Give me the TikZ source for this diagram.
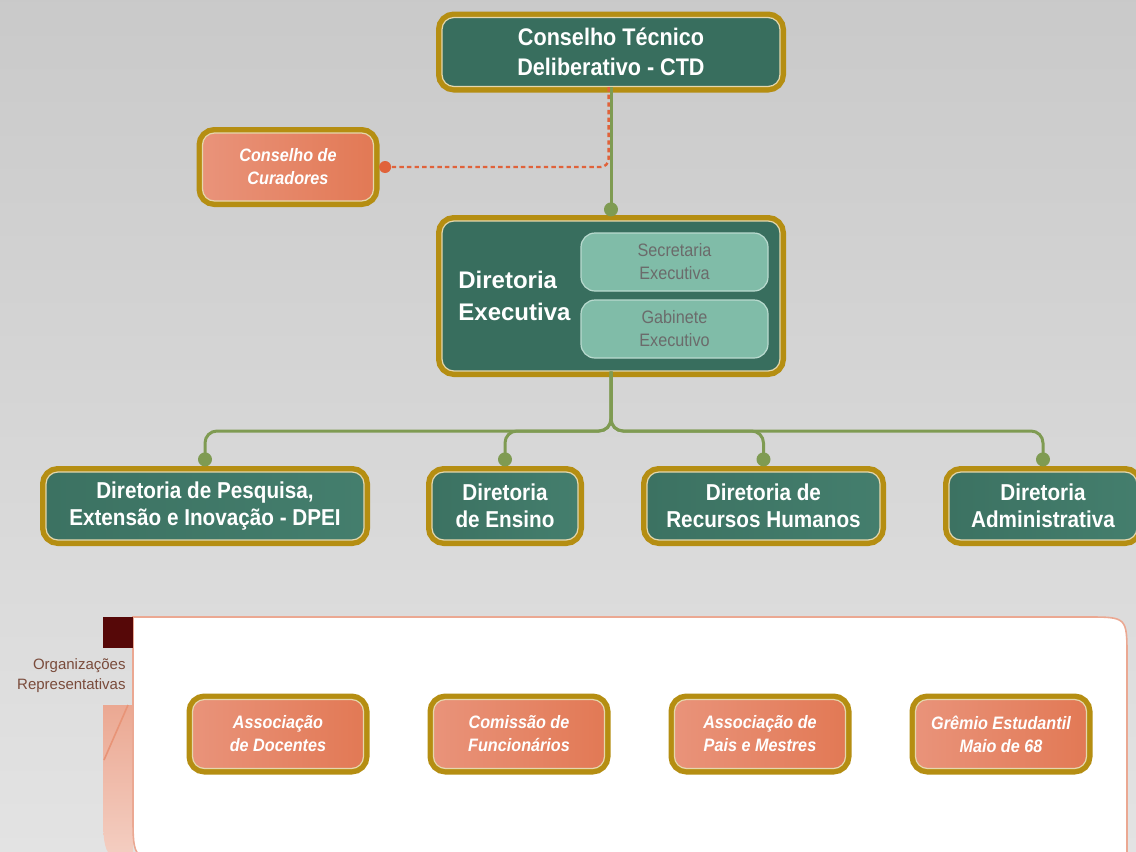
\documentclass[tikz,border=0pt]{standalone}
\usepackage{fontspec}
\setmainfont{Liberation Sans}
\newfontfamily\condfont[FakeStretch=0.9]{Liberation Sans}
\usetikzlibrary{positioning}
\definecolor{gold}{HTML}{B58E12}
\definecolor{boardgreen}{HTML}{386E5E}
\definecolor{rowdark}{HTML}{3C7262}
\definecolor{rowlight}{HTML}{4E8F7C}
\definecolor{rowmid}{HTML}{447E6D}
\definecolor{staffteal}{HTML}{80BCA8}
\definecolor{salmonlight}{HTML}{E9937A}
\definecolor{salmondark}{HTML}{E27955}
\definecolor{linkgreen}{HTML}{7F9B52}
\definecolor{advise}{HTML}{E0623A}
\definecolor{panelline}{HTML}{EBA892}
\definecolor{maroon}{HTML}{560808}
\definecolor{orgtext}{HTML}{7A4B3B}
\newcommand\rowy{506}
\newcommand\orgy{734}

\begin{document}
\begin{tikzpicture}[x=0.5pt, y=-0.5pt,
    box/.style={rounded corners=6pt, preaction={draw=gold, line width=6pt}, draw=white!65!gold, line width=0.6pt, align=center, text=white, inner sep=2pt},
    board/.style={box, fill=boardgreen, minimum width=169pt, minimum height=34.5pt, font=\condfont\bfseries\fontsize{12}{15}\selectfont},
    branch/.style={box, left color=rowdark, middle color=rowlight, right color=rowmid, minimum height=34pt, font=\condfont\bfseries\fontsize{11.5}{13.5}\selectfont},
    salmonbox/.style={box, left color=salmonlight, right color=salmondark, minimum width=85.5pt, minimum height=34.5pt, font=\condfont\bfseries\itshape\fontsize{9}{11.5}\selectfont},
    staff/.style={rounded corners=7pt, fill=staffteal, draw=white!45!staffteal, line width=0.6pt, minimum width=93.5pt, minimum height=29pt, align=center, text=black!58, font=\condfont\fontsize{9}{11.5}\selectfont},
    link/.style={draw=linkgreen, line width=1.5pt},
    dot/.style={fill=linkgreen}]

    % background
    \shade[top color=black!21, bottom color=black!11] (0,0) rectangle (1136,852);
    \useasboundingbox (0,0) rectangle (1136,852);

    % Organizacoes Representativas
    \shade[top color=panelline, bottom color=panelline!55] (103,705) -- (133,705) -- (133,860) -- (145,860) .. controls (103,860) .. (103,800) -- cycle;
    \draw[salmondark!80, line width=0.8pt] (128,705) -- (104,760);
    \draw[panelline, fill=white, line width=0.8pt] (133,617) -- (1087,617) .. controls (1127,617) .. (1127,657) -- (1127,860) -- (178,860) .. controls (133,860) .. (133,815) -- cycle;
    \fill[maroon] (103,617) rectangle (133,648);
    \node at (126,676) [anchor=east, align=right, text=orgtext, inner sep=0pt, font=\fontsize{7.5}{10}\selectfont] (orglabel) {Organizações\\Representativas};

    \node at (278,\orgy) [salmonbox] (docentes) {Associação\\de Docentes};
    \node at (519,\orgy) [salmonbox] (funcionarios) {Comissão de\\Funcionários};
    \node at (760,\orgy) [salmonbox] (pais) {Associação de\\Pais e Mestres};
    \node at (1001,\orgy) [salmonbox] (gremio) {Grêmio Estudantil\\Maio de 68};

    % CTD
    \node at (611,52) [board] (ctd) {Conselho Técnico\\Deliberativo - CTD};

    % Curadores
    \node at (288,167) [salmonbox, minimum height=34pt] (cur) {Conselho de\\Curadores};

    % Diretoria Executiva
    \node at (611,296) [board, minimum height=75pt] (de) {};
    \node at (458,296) [anchor=west, align=left, text=white, inner sep=0pt, font=\bfseries\fontsize{12}{16}\selectfont] (detitle) {Diretoria\\Executiva};
    \node at (674.5,262) [staff] (sec) {Secretaria\\Executiva};
    \node at (674.5,329) [staff] (gab) {Gabinete\\Executivo};

    % Diretorias
    \node at (205,\rowy) [branch, minimum width=159pt] (dpei) {Diretoria de Pesquisa,\\Extensão e Inovação - DPEI};
    \node at (505,\rowy) [branch, minimum width=73pt] (ens) {Diretoria\\de Ensino};
    \node at (763.5,\rowy) [branch, minimum width=116.5pt] (rh) {Diretoria de\\Recursos Humanos};
    \node at (1043,\rowy) [branch, minimum width=94pt] (adm) {Diretoria\\Administrativa};

    % links
    \coordinate (dedot) at ([yshift=5.5pt]de.north);
    \draw[link] (ctd.south) -- (dedot);
    \fill[dot] (dedot) circle (3.5pt);

    \coordinate (ctdfoot) at ([xshift=-1.2pt]ctd.south);
    \coordinate (curdot) at ([xshift=5.5pt]cur.east);
    \draw[advise, line width=1.2pt, dash pattern=on 2.2pt off 1.6pt, rounded corners=4pt] (ctdfoot) |- (curdot);
    \fill[advise] (curdot) circle (3pt);

    \coordinate (bus) at (611,431);
    \foreach \d in {dpei, ens, rh, adm} {
        \coordinate (\d top) at ([yshift=6pt]\d.north);
        \draw[link, rounded corners=6pt] (de.south) -- (bus) -| (\d top);
        \fill[dot] (\d top) circle (3.5pt);
    }

\end{tikzpicture}
\end{document}
